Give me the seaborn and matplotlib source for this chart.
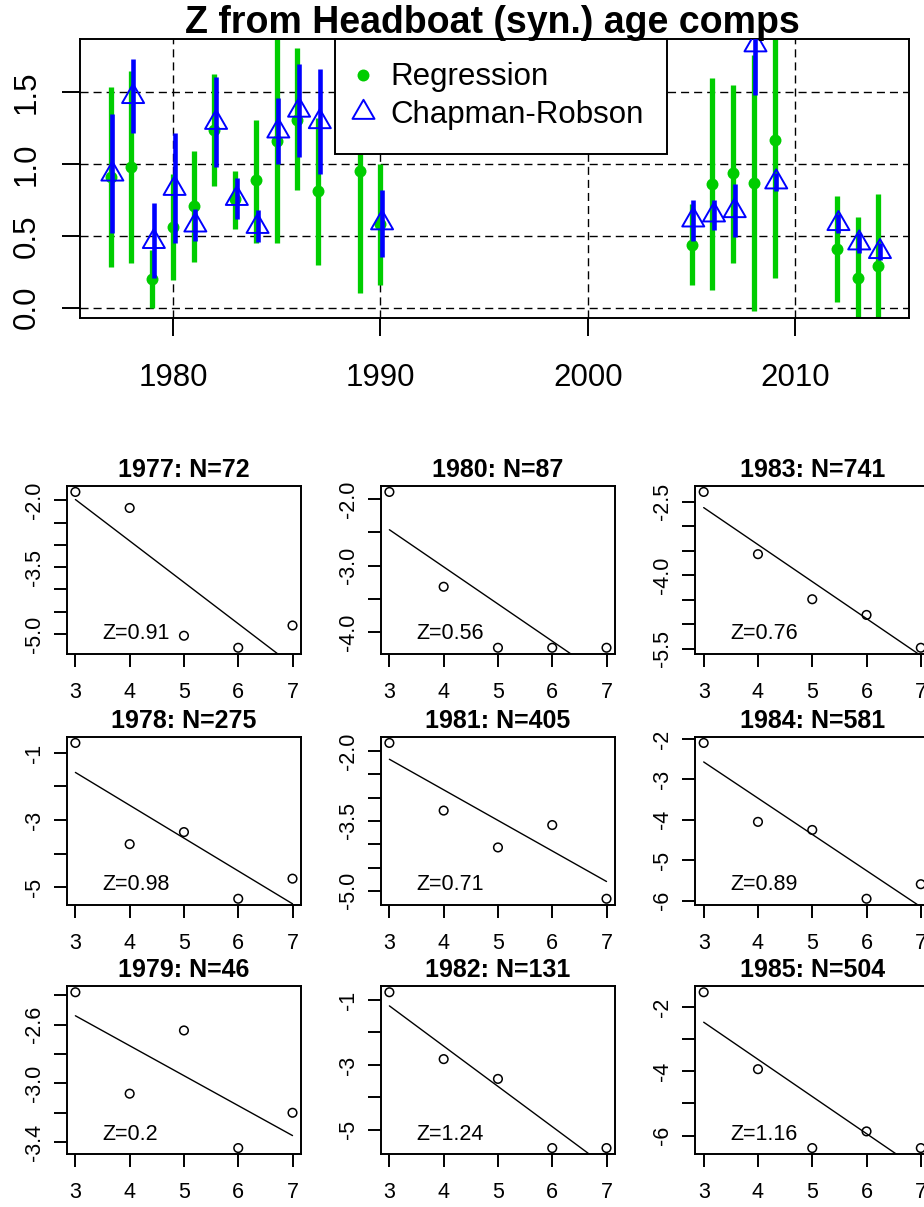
import numpy as np
import pandas as pd
import matplotlib
matplotlib.use("Agg")
import matplotlib.pyplot as plt
import matplotlib.path as mpath
import matplotlib.transforms as mtransforms
from matplotlib.lines import Line2D
import seaborn as sns

# ---------------- data: top panel ----------------
years = [1977, 1978, 1979, 1980, 1981, 1982, 1983, 1984, 1985, 1986, 1987,
         1989, 1990, 2005, 2006, 2007, 2008, 2009, 2012, 2013, 2014]
reg_z = [0.91, 0.98, 0.20, 0.56, 0.71, 1.24, 0.76, 0.89, 1.16, 1.31, 0.81,
         0.95, 0.58, 0.44, 0.86, 0.94, 0.87, 1.17, 0.41, 0.21, 0.29]
reg_lo = [0.28, 0.31, 0.00, 0.19, 0.32, 0.85, 0.545, 0.45, 0.45, 0.82, 0.30,
          0.10, 0.16, 0.16, 0.12, 0.31, -0.02, 0.205, 0.04, -0.21, -0.22]
reg_hi = [1.535, 1.65, 0.40, 0.93, 1.09, 1.63, 0.955, 1.31, 1.87, 1.81, 1.32,
          1.80, 1.00, 0.72, 1.60, 1.55, 1.76, 2.14, 0.78, 0.63, 0.795]
nan = float("nan")
cr_z = [0.93, 1.47, 0.46, 0.83, 0.575, 1.29, 0.76, 0.565, 1.23, 1.375, 1.295,
        nan, 0.59, 0.61, 0.645, 0.675, 1.83, 0.875, 0.585, 0.45, 0.39]
cr_lo = [0.52, 1.22, 0.21, 0.45, 0.465, 0.98, 0.62, 0.455, 1.00, 1.05, 0.93,
         nan, 0.355, 0.465, 0.54, 0.49, 1.48, 0.815, 0.52, 0.38, 0.33]
cr_hi = [1.35, 1.73, 0.73, 1.22, 0.685, 1.61, 0.90, 0.68, 1.46, 1.70, 1.66,
         nan, 0.82, 0.75, 0.75, 0.86, 2.18, 0.94, 0.655, 0.52, 0.45]
top_ylim = (0.0, 1.8)
top_xticks = [1980, 1990, 2000, 2010]
top_yticks = [0.0, 0.5, 1.0, 1.5]
top_yticklabels = ["0.0", "0.5", "1.0", "1.5"]
top_title = "Z from Headboat (syn.) age comps"
legend_labels = ["Regression", "Chapman-Robson"]

# ---------------- data: catch-curve panels ----------------
ages = [3, 4, 5, 6, 7]
panel_years = [1977, 1978, 1979, 1980, 1981, 1982, 1983, 1984, 1985]
panel_n = [72, 275, 46, 87, 405, 131, 741, 581, 504]
panel_z = ["0.91", "0.98", "0.2", "0.56", "0.71", "1.24", "0.76", "0.89", "1.16"]

logn_1977 = [-1.81, -2.17, -5.04, -5.31, -4.81]
logn_1978 = [-0.70, -3.72, -3.36, -5.35, -4.75]
logn_1979 = [-2.38, -3.07, -2.64, -3.44, -3.20]
logn_1980 = [-1.89, -3.32, -4.24, -4.24, -4.24]
logn_1981 = [-1.83, -3.28, -4.07, -3.59, -5.17]
logn_1982 = [-0.76, -2.82, -3.43, -5.56, -5.56]
logn_1983 = [-2.30, -3.57, -4.49, -4.81, -5.48]
logn_1984 = [-2.10, -4.05, -4.25, -5.95, -5.59]
logn_1985 = [-1.53, -3.93, -6.39, -5.87, -6.39]

# fitted line value at age 3 and at age 7
fit_1977 = [-1.98, -5.70]
fit_1978 = [-1.58, -5.50]
fit_1979 = [-2.54, -3.355]
fit_1980 = [-2.46, -4.70]
fit_1981 = [-2.18, -4.80]
fit_1982 = [-1.18, -6.14]
fit_1983 = [-2.62, -5.64]
fit_1984 = [-2.57, -6.15]
fit_1985 = [-2.465, -7.10]

yt_1977 = [-2.0, -2.5, -3.0, -3.5, -4.0, -4.5, -5.0]
yl_1977 = ["-2.0", "", "", "-3.5", "", "", "-5.0"]
yt_1978 = [-1, -2, -3, -4, -5]
yl_1978 = ["-1", "", "-3", "", "-5"]
yt_1979 = [-2.4, -2.6, -2.8, -3.0, -3.2, -3.4]
yl_1979 = ["", "-2.6", "", "-3.0", "", "-3.4"]
yt_1980 = [-2.0, -2.5, -3.0, -3.5, -4.0]
yl_1980 = ["-2.0", "", "-3.0", "", "-4.0"]
yt_1981 = [-2.0, -2.5, -3.0, -3.5, -4.0, -4.5, -5.0]
yl_1981 = ["-2.0", "", "", "-3.5", "", "", "-5.0"]
yt_1982 = [-1, -2, -3, -4, -5]
yl_1982 = ["-1", "", "-3", "", "-5"]
yt_1983 = [-2.5, -3.0, -3.5, -4.0, -4.5, -5.0, -5.5]
yl_1983 = ["-2.5", "", "", "-4.0", "", "", "-5.5"]
yt_1984 = [-2, -3, -4, -5, -6]
yl_1984 = ["-2", "-3", "-4", "-5", "-6"]
yt_1985 = [-2, -3, -4, -5, -6]
yl_1985 = ["-2", "", "-4", "", "-6"]

panel_logn = [logn_1977, logn_1978, logn_1979, logn_1980, logn_1981,
              logn_1982, logn_1983, logn_1984, logn_1985]
panel_fit = [fit_1977, fit_1978, fit_1979, fit_1980, fit_1981,
             fit_1982, fit_1983, fit_1984, fit_1985]
panel_yt = [yt_1977, yt_1978, yt_1979, yt_1980, yt_1981,
            yt_1982, yt_1983, yt_1984, yt_1985]
panel_yl = [yl_1977, yl_1978, yl_1979, yl_1980, yl_1981,
            yl_1982, yl_1983, yl_1984, yl_1985]

# ---------------- style ----------------
sns.set_theme(style="ticks", rc={
    "axes.edgecolor": "black", "axes.linewidth": 1.4,
    "xtick.color": "black", "ytick.color": "black",
    "text.color": "black", "axes.labelcolor": "black",
})
plt.rcParams["font.family"] = ["Liberation Sans", "DejaVu Sans"]

GREEN = "#00CD00"
BLUE = "#0000FF"
W, H = 924, 1207
fig = plt.figure(figsize=(W / 100, H / 100), dpi=100)


def px_axes(left, top, width, height):
    return fig.add_axes([left / W, 1 - (top + height) / H, width / W, height / H])


# R-style open triangle (pch = 2)
tri_path = mpath.Path(np.array([(0, 1.555), (1.347, -0.778), (-1.347, -0.778), (0, 1.555)]),
                      closed=True)

# ---------------- top panel ----------------
ax = px_axes(80, 39, 829, 279)
yrs = np.array(years, dtype=float)
ax.vlines(yrs, reg_lo, reg_hi, color=GREEN, lw=3.8, zorder=2)
sns.scatterplot(x=yrs, y=reg_z, color=GREEN, s=74, linewidth=0, ax=ax, zorder=3)
yrs_cr = yrs + 0.08
ax.vlines(yrs_cr, cr_lo, cr_hi, color=BLUE, lw=3.3, zorder=4)
sns.scatterplot(x=yrs_cr, y=cr_z, marker=tri_path, s=18.3 ** 2, facecolor="none",
                edgecolor=BLUE, linewidth=1.4, ax=ax, zorder=5)

span = max(years) - min(years)
ax.set_xlim(min(years) - 0.04 * span, max(years) + 0.04 * span)
yr = top_ylim[1] - top_ylim[0]
ax.set_ylim(top_ylim[0] - 0.04 * yr, top_ylim[1] + 0.04 * yr)
ax.set_xticks(top_xticks)
ax.set_xticklabels([str(t) for t in top_xticks])
ax.set_yticks(top_yticks)
ax.set_yticklabels(top_yticklabels, rotation=90, va="center")
ax.tick_params(axis="x", length=13, width=1.4, pad=19.4, labelsize=22.5)
ax.tick_params(axis="y", length=13, width=1.4, pad=14.4, labelsize=22.5)
ax.grid(True, color="black", lw=1.0, linestyle=(0, (5.8, 3.6)))
ax.set_axisbelow(True)
for sp in ax.spines.values():
    sp.set_visible(True)
    sp.set_linewidth(1.4)
    sp.set_color("black")
ax.set_xlabel("")
ax.set_ylabel("")

handles = [
    Line2D([], [], marker="o", color=GREEN, ls="", ms=8.6, mew=0),
    Line2D([], [], marker=tri_path, ls="", ms=18.3, mfc="none", mec=BLUE, mew=1.4),
]
leg = ax.legend(handles, legend_labels, loc="upper left",
                bbox_to_anchor=((335 - 80) / 829, 1.0), borderaxespad=0,
                frameon=True, fancybox=False, framealpha=1, edgecolor="black",
                borderpad=0.75, handlelength=0.3, handletextpad=0.71,
                labelspacing=0.25, fontsize=22.5)
leg.get_frame().set_linewidth(1.4)
leg.set_zorder(10)

fig.text(492 / W, 1 - 33 / H, top_title, ha="center", va="baseline",
         fontsize=27, fontweight="bold")

# ---------------- catch-curve panels ----------------
col_left = [66.7, 380.7, 695.0]
row_top = [485.7, 736.7, 986.0]
pw, ph = 234.5, 168.3

for i, yr_ in enumerate(panel_years):
    col, row = i // 3, i % 3
    pax = px_axes(col_left[col], row_top[row], pw, ph)
    vals = panel_logn[i]
    df = pd.DataFrame({"age": ages, "logN": vals})
    sns.lineplot(x=[ages[0], ages[-1]], y=panel_fit[i], color="black", lw=1.0,
                 ax=pax, zorder=2)
    sns.scatterplot(data=df, x="age", y="logN", marker="o", s=6.2 ** 2,
                    facecolor="none", edgecolor="black", linewidth=1.1,
                    ax=pax, zorder=3)
    lo, hi = min(vals), max(vals)
    r = hi - lo
    pax.set_ylim(lo - 0.04 * r, hi + 0.04 * r)
    ar = ages[-1] - ages[0]
    pax.set_xlim(ages[0] - 0.04 * ar, ages[-1] + 0.04 * ar)
    pax.set_xticks(ages)
    pax.set_xticklabels([str(a) for a in ages])
    pax.set_yticks(panel_yt[i])
    pax.set_yticklabels(panel_yl[i], rotation=90, va="center")
    pax.tick_params(axis="x", length=9.5, width=1.4, pad=10.8, labelsize=15.5)
    pax.tick_params(axis="y", length=9.5, width=1.4, pad=6.3, labelsize=15.5)
    pax.set_xlabel("")
    pax.set_ylabel("")
    for sp in pax.spines.values():
        sp.set_visible(True)
        sp.set_linewidth(1.4)
        sp.set_color("black")
    pax.text(0.5, 1 + 9 / ph, f"{yr_}: N={panel_n[i]}", transform=pax.transAxes,
             ha="center", va="baseline", fontsize=18, fontweight="bold")
    trans = mtransforms.blended_transform_factory(pax.transData, pax.transAxes)
    pax.text(3.5, 0.087, "Z=" + panel_z[i], transform=trans, ha="left",
             va="baseline", fontsize=15.5)

fig.savefig("out.png", dpi=100)
